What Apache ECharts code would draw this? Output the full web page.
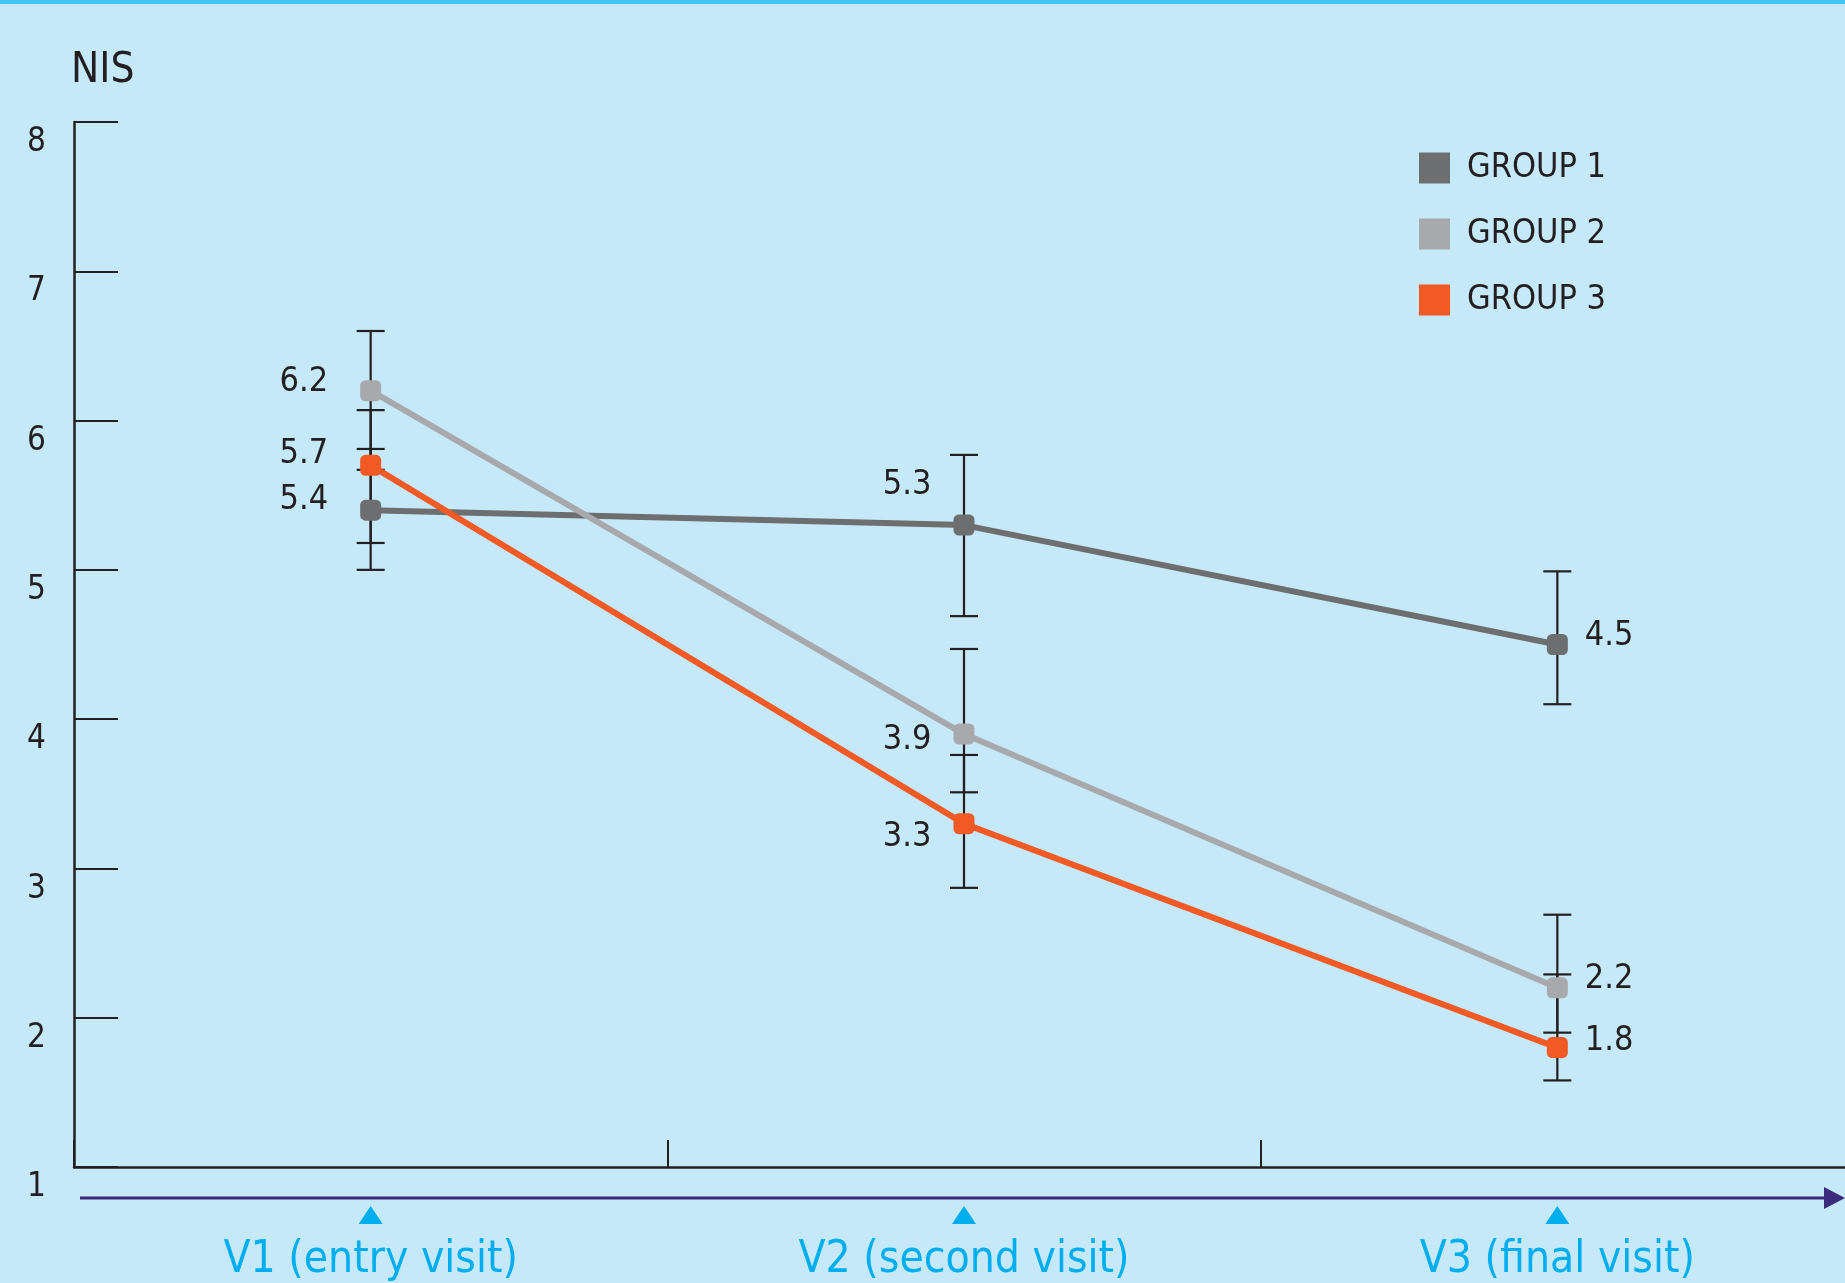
<!DOCTYPE html>
<html>
<head>
<meta charset="utf-8">
<script src="https://cdn.jsdelivr.net/npm/echarts@6/dist/echarts.min.js"></script>
<style>
html,body{margin:0;padding:0;background:#c6e9f9;}
#chart{width:1845px;height:1283px;}
</style>
</head>
<body>
<div id="chart"></div>
<script>
// ---- data ----
const categories = ['V1 (entry visit)', 'V2 (second visit)', 'V3 (final visit)'];
const seriesNames = ['GROUP 1', 'GROUP 2', 'GROUP 3'];
const group1 = [5.4, 5.3, 4.5];
const group2 = [6.2, 3.9, 2.2];
const group3 = [5.7, 3.3, 1.8];
const group1Low = [5.0, 4.69, 4.10];
const group1High = [5.81, 5.77, 4.99];
const group2Low = [5.67, 3.51, 1.90];
const group2High = [6.60, 4.47, 2.69];
const group3Low = [5.18, 2.87, 1.58];
const group3High = [6.07, 3.76, 2.29];
const yMin = 1, yMax = 8, yStep = 1;

// ---- styling ----
const FONT = '"Liberation Sans Narrow", "DejaVu Sans Condensed", "Liberation Sans", sans-serif';
const INK = '#231f20';
const colors = ['#6d6e70', '#a7a9ac', '#f15a24'];
const labelLayout = [
  [{position:'left', distance:32, offset:[0,-10]}, {position:'left', distance:22, offset:[0,-40]}, {position:'right', distance:17, offset:[0,-8]}],
  [{position:'left', distance:32, offset:[0,-9]},  {position:'left', distance:22, offset:[0,6]},   {position:'right', distance:17, offset:[0,-9]}],
  [{position:'left', distance:32, offset:[0,-11]}, {position:'left', distance:22, offset:[0,14]},  {position:'right', distance:17, offset:[0,-6]}]
];

const values = [group1, group2, group3];
const lows = [group1Low, group2Low, group3Low];
const highs = [group1High, group2High, group3High];

function renderErr(params, api) {
  const x = api.value(0);
  const lo = api.coord([x, api.value(1)]);
  const hi = api.coord([x, api.value(2)]);
  const hw = 14;
  const style = {stroke: INK, lineWidth: 2.2};
  return {type: 'group', children: [
    {type: 'line', shape: {x1: lo[0], y1: lo[1], x2: hi[0], y2: hi[1]}, style: style},
    {type: 'line', shape: {x1: lo[0] - hw, y1: lo[1], x2: lo[0] + hw, y2: lo[1]}, style: style},
    {type: 'line', shape: {x1: hi[0] - hw, y1: hi[1], x2: hi[0] + hw, y2: hi[1]}, style: style}
  ]};
}

function renderTri(params, api) {
  const p = api.coord([api.value(0), api.value(1)]);
  return {type: 'polygon', shape: {points: [[p[0], p[1] + 39], [p[0] - 12, p[1] + 57], [p[0] + 12, p[1] + 57]]}, style: {fill: '#00aeef'}};
}

const series = [];
for (let s = 0; s < 3; s++) {
  series.push({
    type: 'custom', renderItem: renderErr, z: 1, clip: false, silent: true,
    encode: {x: 0, y: [1, 2]},
    data: categories.map((c, i) => [i, lows[s][i], highs[s][i]])
  });
}
const zOrder = [2, 3, 4];
for (let s = 0; s < 3; s++) {
  series.push({
    name: seriesNames[s], type: 'line', z: zOrder[s],
    symbol: 'roundRect', symbolSize: 21, showAllSymbol: true,
    itemStyle: {color: colors[s]},
    lineStyle: {color: colors[s], width: 6},
    label: {show: true, color: INK, fontSize: 34, fontFamily: FONT, formatter: (p) => p.value.toFixed(1)},
    data: values[s].map((v, i) => ({value: v, label: labelLayout[s][i]}))
  });
}
series.push({
  type: 'custom', renderItem: renderTri, clip: false, silent: true, z: 5,
  encode: {x: 0, y: 1},
  data: categories.map((c, i) => [i, yMin])
});

const chart = echarts.init(document.getElementById('chart'), null, {renderer: 'canvas'});
chart.setOption({
  backgroundColor: '#c6e9f9',
  animation: false,
  textStyle: {fontFamily: FONT},
  grid: {left: 74, top: 122, width: 1780, bottom: 116, containLabel: false, outerBoundsMode: 'none'},
  legend: {
    data: seriesNames, orient: 'vertical', left: 1414, top: 146,
    icon: 'rect', itemWidth: 31, itemHeight: 31, itemGap: 32,
    textStyle: {fontSize: 34, color: INK, fontFamily: FONT, padding: [0, 0, 0, 12]}
  },
  xAxis: {
    type: 'category', data: categories, boundaryGap: true,
    axisLine: {show: true, lineStyle: {color: INK, width: 2.5}},
    axisTick: {show: true, inside: true, length: 27, lineStyle: {color: INK, width: 2}},
    axisLabel: {color: '#00aeef', fontSize: 44, margin: 72, fontFamily: FONT},
    splitLine: {show: false}
  },
  yAxis: {
    type: 'value', min: yMin, max: yMax, interval: yStep,
    name: 'NIS', nameLocation: 'end', nameGap: 51,
    nameTextStyle: {fontSize: 42, color: INK, align: 'left', verticalAlign: 'middle', fontFamily: FONT, padding: [0, 0, 0, -3]},
    axisLine: {show: true, lineStyle: {color: INK, width: 2.5}},
    axisTick: {show: true, inside: true, length: 44, lineStyle: {color: INK, width: 2}},
    axisLabel: {fontSize: 33, color: INK, margin: 28, verticalAlign: 'top', padding: [4, 0, 0, 0], fontFamily: FONT},
    splitLine: {show: false}
  },
  graphic: [
    {type: 'rect', left: 0, top: 0, shape: {width: 1845, height: 4}, style: {fill: '#43c4f2'}, z: 10},
    {type: 'line', shape: {x1: 80, y1: 1198, x2: 1828, y2: 1198}, style: {stroke: '#3b2b7c', lineWidth: 3}, z: 10},
    {type: 'polygon', shape: {points: [[1824, 1187], [1845, 1198], [1824, 1209]]}, style: {fill: '#3b2b7c'}, z: 10}
  ],
  series: series
});
</script>
</body>
</html>
